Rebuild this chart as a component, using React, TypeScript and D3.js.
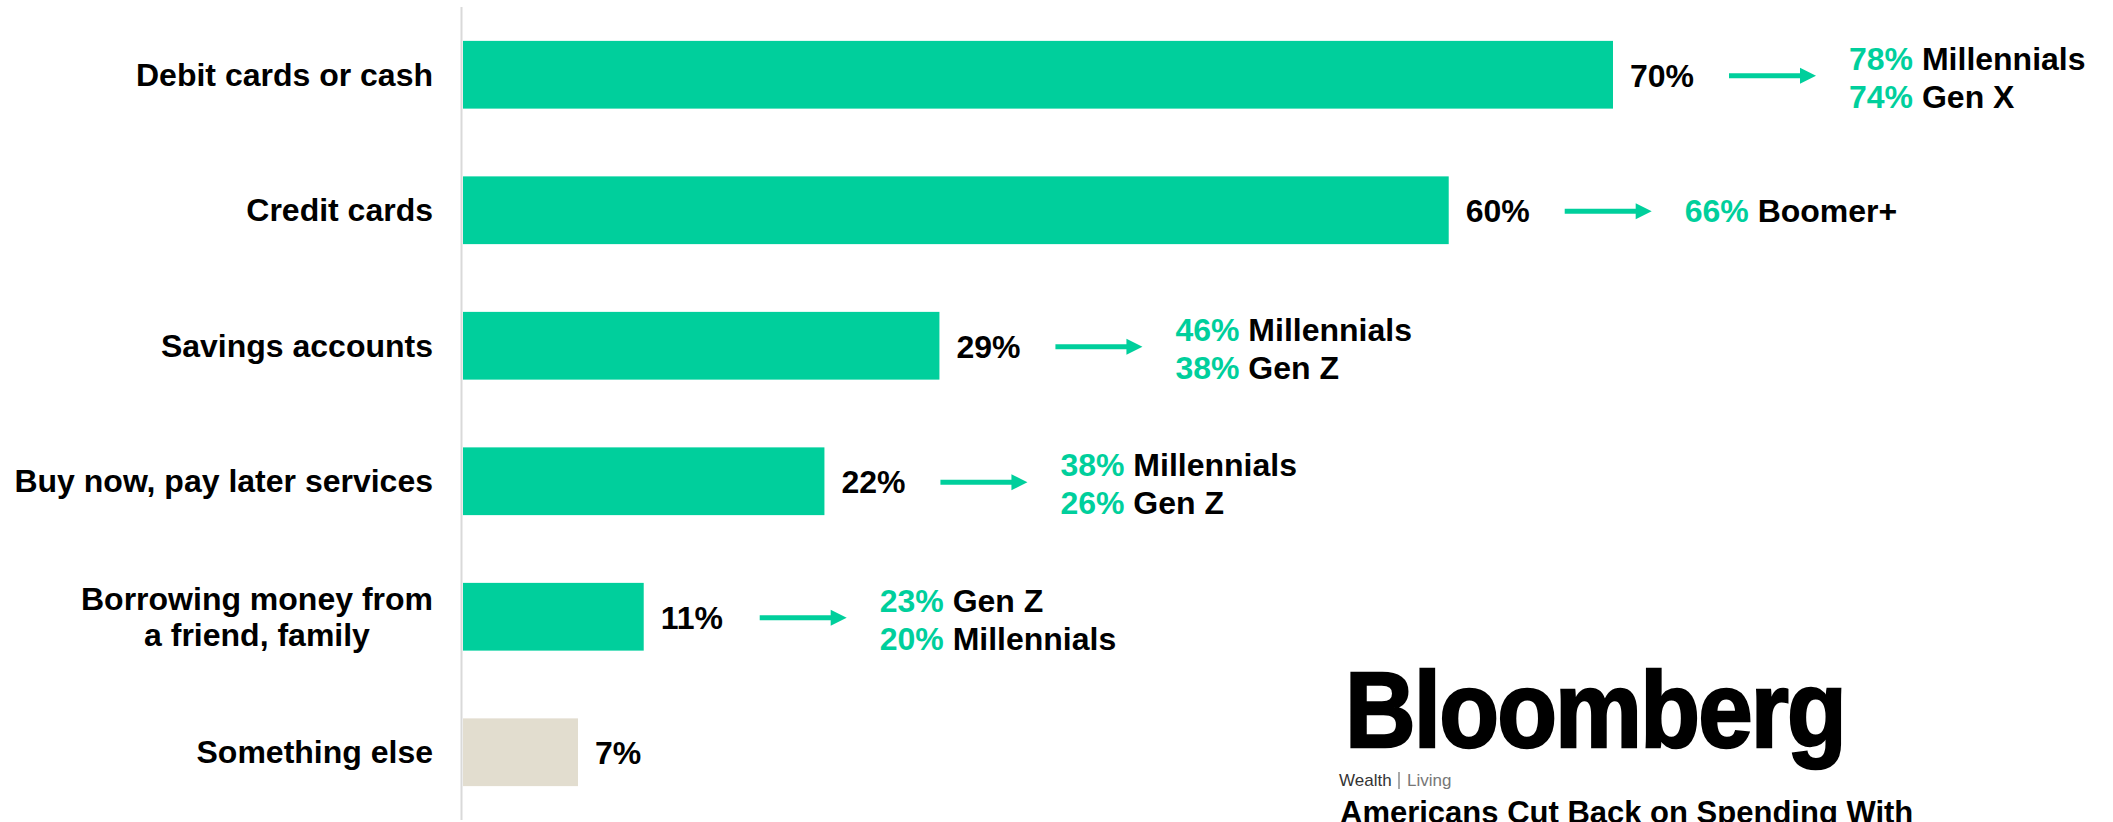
import React from "react";
import * as d3 from "d3";

// ---- data ----
const categories: string[] = [
  "Debit cards or cash",
  "Credit cards",
  "Savings accounts",
  "Buy now, pay later services",
  "Borrowing money from\na friend, family",
  "Something else",
];
const values: number[] = [70, 60, 29, 22, 11, 7];
const highlighted: boolean[] = [true, true, true, true, true, false];
const genPcts: number[][] = [[78, 74], [66], [46, 38], [38, 26], [23, 20], []];
const genNames: string[][] = [
  ["Millennials", "Gen X"],
  ["Boomer+"],
  ["Millennials", "Gen Z"],
  ["Millennials", "Gen Z"],
  ["Gen Z", "Millennials"],
  [],
];

// ---- style ----
const W = 2113;
const H = 822;
const GREEN = "#00CF9C";
const BEIGE = "#E2DDCF";
const AXIS = "#D9D9D9";
const FONT = "'Liberation Sans', Arial, Helvetica, sans-serif";
const FS = 32;

function measure(text: string, font: string): number {
  const c = document.createElement("canvas");
  const ctx = c.getContext("2d");
  if (!ctx) return text.length * FS * 0.55;
  ctx.font = font;
  return ctx.measureText(text).width;
}

export default function App() {
  const x = d3.scaleLinear().domain([0, 70]).range([463, 1613]);
  const y = d3
    .scaleBand<string>()
    .domain(categories)
    .range([7, 820])
    .paddingInner(0.5)
    .paddingOuter(0.25);
  const bw = y.bandwidth();
  const labelRight = 433;
  const fmt = (v: number) => `${v}%`;

  return (
    <svg
      width={W}
      height={H}
      style={{ position: "absolute", left: 0, top: 0, display: "block", background: "#fff" }}
      fontFamily={FONT}
    >
      {/* axis line */}
      <line x1={461.5} x2={461.5} y1={7} y2={820} stroke={AXIS} strokeWidth={2} />

      {categories.map((cat, i) => {
        const y0 = y(cat) as number;
        const cy = y0 + bw / 2;
        const x0 = x(0);
        const x1 = x(values[i]);
        const lines = cat.split("\n");
        const arrowStart = x1 + 116;
        const arrowEnd = arrowStart + 87;
        const ay = cy + 1;
        const annX = arrowEnd + 33;
        const pcts = genPcts[i];
        const names = genNames[i];
        let labelEl: React.ReactNode;
        if (lines.length === 1) {
          labelEl = (
            <text x={labelRight} y={cy + 11} textAnchor="end" fontSize={FS} fontWeight="bold" fill="#000">
              {cat}
            </text>
          );
        } else {
          const widths = lines.map((l) => measure(l, `bold ${FS}px ${FONT}`));
          const mw = Math.max(...widths);
          const cx = labelRight - mw / 2;
          const lh = 36;
          const startY = cy + 11 - (lh * (lines.length - 1)) / 2;
          labelEl = (
            <text textAnchor="middle" fontSize={FS} fontWeight="bold" fill="#000">
              {lines.map((l, k) => (
                <tspan key={k} x={cx} y={startY + k * lh}>
                  {l}
                </tspan>
              ))}
            </text>
          );
        }
        return (
          <g key={cat}>
            {labelEl}
            <rect x={x0} y={y0} width={x1 - x0} height={bw} fill={highlighted[i] ? GREEN : BEIGE} />
            <text x={x1 + 17} y={cy + 12} fontSize={FS} fontWeight="bold" fill="#000">
              {fmt(values[i])}
            </text>
            {pcts.length > 0 && (
              <g>
                <line x1={arrowStart} x2={arrowEnd - 14} y1={ay} y2={ay} stroke={GREEN} strokeWidth={5} />
                <polygon
                  points={`${arrowEnd},${ay} ${arrowEnd - 16},${ay - 8} ${arrowEnd - 16},${ay + 8}`}
                  fill={GREEN}
                />
                {pcts.map((p, k) => {
                  const lh = 38;
                  const by = cy + 3 + 11 - (lh * (pcts.length - 1)) / 2 + k * lh;
                  return (
                    <text key={k} x={annX} y={pcts.length === 1 ? cy + 12 : by} fontSize={FS} fontWeight="bold">
                      <tspan fill={GREEN}>{fmt(p)}</tspan>
                      <tspan fill="#000"> {names[k]}</tspan>
                    </text>
                  );
                })}
              </g>
            )}
          </g>
        );
      })}

      {/* Bloomberg article card */}
      <text
        x={1345}
        y={747}
        fontSize={107}
        fontWeight="bold"
        fill="#000"
        stroke="#000"
        strokeWidth={2.5}
        letterSpacing={-2}
        textLength={500}
        lengthAdjust="spacingAndGlyphs"
      >
        Bloomberg
      </text>
      <text x={1339} y={786} fontSize={17} fill="#333">
        Wealth
      </text>
      <line x1={1399} x2={1399} y1={772} y2={789} stroke="#555" strokeWidth={1} />
      <text x={1407} y={786} fontSize={17} fill="#777">
        Living
      </text>
      <text x={1340} y={823} fontSize={31} fontWeight="bold" fill="#000">
        Americans Cut Back on Spending With
      </text>
    </svg>
  );
}
